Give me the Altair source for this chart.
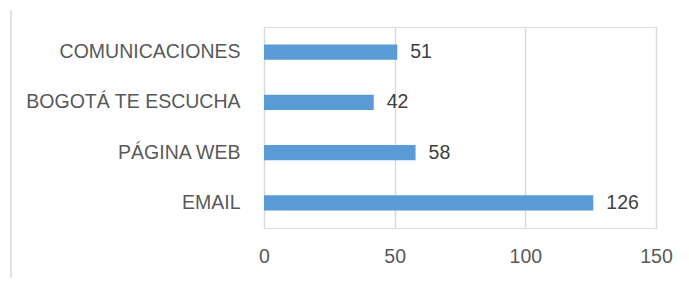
import altair as alt
import pandas as pd

categories = ["COMUNICACIONES", "BOGOTÁ TE ESCUCHA", "PÁGINA WEB", "EMAIL"]
values = [51, 42, 58, 126]
x_ticks = [0, 50, 100, 150]

df = pd.DataFrame({"canal": categories, "valor": values})

FONT = "Liberation Sans"

y_enc = alt.Y(
    "canal:N",
    sort=categories,
    title=None,
    scale=alt.Scale(paddingInner=0.7, paddingOuter=0.35),
    axis=alt.Axis(domain=False, ticks=False, labelPadding=24, labelFontSize=19.5,
                  labelColor="#595959", labelFont=FONT, labelLimit=400, grid=False),
)
x_enc = alt.X(
    "valor:Q",
    title=None,
    scale=alt.Scale(domain=[0, 150], nice=False),
    axis=alt.Axis(values=x_ticks, domain=False, ticks=False, grid=True,
                  gridColor="#d9d9d9", gridWidth=1.5, labelPadding=19, labelFlush=False,
                  labelFontSize=19.5, labelColor="#595959", labelFont=FONT),
)

bars = alt.Chart(df).mark_bar(color="#5B9BD5").encode(x=x_enc, y=y_enc)
labels = alt.Chart(df).mark_text(
    align="left", baseline="middle", dx=13, fontSize=19.5, color="#404040", font=FONT
).encode(x="valor:Q", y=alt.Y("canal:N", sort=categories), text="valor:Q")

border = alt.Chart(pd.DataFrame({"a": [0]})).mark_rule(color="#d9d9d9", strokeWidth=1.5).encode(
    x=alt.value(-253), y=alt.value(-17), y2=alt.value(260)
)

chart = alt.layer(border, bars, labels).properties(
    width=392, height=201,
    autosize=alt.AutoSizeParams(type="none"),
    padding={"left": 256, "top": 19, "right": 25, "bottom": 50},
).configure_view(stroke=None).configure(background="white")

chart.save("out.html", embed_options={"renderer": "svg", "actions": False})
